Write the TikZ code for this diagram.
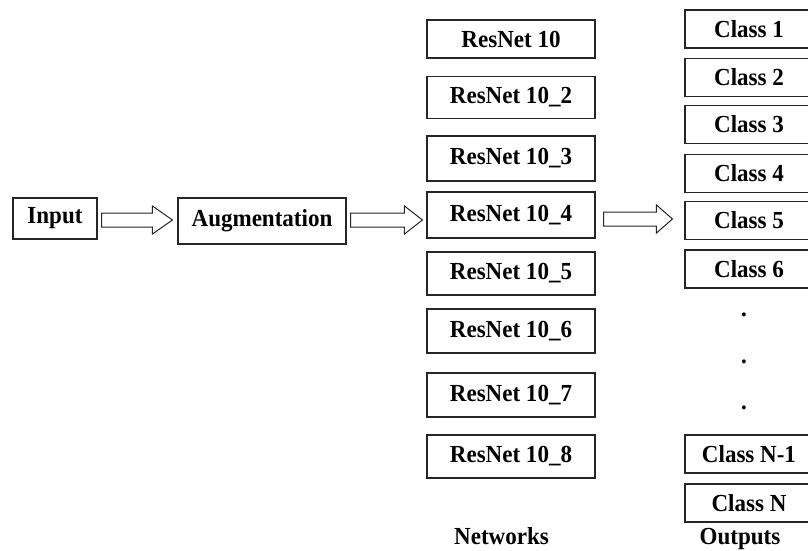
\documentclass[tikz,border=0pt]{standalone}
\usepackage{fontspec}
\setmainfont{Liberation Serif}[FakeStretch=0.94]
\usetikzlibrary{calc}
\begin{document}
\begin{tikzpicture}[x=1pt,y=-1pt,
  box/.style={draw=black!85,line width=1.1pt,fill=white,inner sep=0pt,
    font=\fontsize{24.5}{28}\selectfont\bfseries},
  netbox/.style={box,minimum width=168pt,minimum height=42pt},
  clsbox/.style={box,minimum width=128pt,minimum height=38pt},
  blockarr/.style={draw=black!85,line width=1pt,fill=white,line join=miter},
  lbl/.style={font=\fontsize{24.5}{28}\selectfont\bfseries,anchor=base,inner sep=0pt},
  dotlbl/.style={font=\fontsize{24.5}{28}\selectfont\bfseries,anchor=base,inner sep=0pt}]
\useasboundingbox (0,0) rectangle (808,551);
% left boxes
\node[box,minimum width=84pt,minimum height=41pt] (in) at (55,218.5) {Input};
\node[box,minimum width=168pt,minimum height=46pt] (aug) at (262,221) {Augmentation};
% networks
\node[netbox,minimum height=38pt] (r1) at (511,39) {ResNet 10};
\node[netbox] (r2) at (511,97.5) {ResNet 10\_2};
\node[netbox,minimum height=45pt] (r3) at (511,158.5) {ResNet 10\_3};
\node[netbox,minimum height=46pt] (r4) at (511,215) {ResNet 10\_4};
\node[netbox,minimum height=43pt] (r5) at (511,273.5) {ResNet 10\_5};
\node[netbox,minimum height=44pt] (r6) at (511,331) {ResNet 10\_6};
\node[netbox,minimum height=44pt] (r7) at (511,395) {ResNet 10\_7};
\node[netbox,minimum height=43pt] (r8) at (511,456.5) {ResNet 10\_8};
% classes
\node[clsbox] (c1) at (749,29) {Class 1};
\node[clsbox] (c2) at (749,77.5) {Class 2};
\node[clsbox] (c3) at (749,124.5) {Class 3};
\node[clsbox] (c4) at (749,173.5) {Class 4};
\node[clsbox] (c5) at (749,220.5) {Class 5};
\node[clsbox] (c6) at (749,269) {Class 6};
\node[dotlbl] (d1) at (744,316) {.};
\node[dotlbl] (d2) at (744,363) {.};
\node[dotlbl] (d3) at (744,409) {.};
\node[clsbox] (cn1) at (749,454) {Class N-1};
\node[clsbox] (cn) at (749,503) {Class N};
% column labels
\node[lbl] (lnet) at (501.5,544) {Networks};
\node[lbl] (lout) at (740,544) {Outputs};
% block arrows
\draw[blockarr] let \p1=(in.east), \p2=(aug.west) in
  (\x1+4pt,-213pt) -- (\x2-25pt,-213pt) -- (\x2-25pt,-206pt) -- (\x2-5pt,-220pt)
  -- (\x2-25pt,-234pt) -- (\x2-25pt,-227pt) -- (\x1+4pt,-227pt) -- cycle;
\draw[blockarr] let \p1=(aug.east), \p2=(r4.west) in
  (\x1+4pt,-213pt) -- (\x2-22pt,-213pt) -- (\x2-22pt,-206pt) -- (\x2-4pt,-220pt)
  -- (\x2-22pt,-234pt) -- (\x2-22pt,-227pt) -- (\x1+4pt,-227pt) -- cycle;
\draw[blockarr] let \p1=(r4.east), \p2=(c5.west) in
  (\x1+8pt,-212pt) -- (\x2-28pt,-212pt) -- (\x2-28pt,-205pt) -- (\x2-12pt,-219pt)
  -- (\x2-28pt,-233pt) -- (\x2-28pt,-226pt) -- (\x1+8pt,-226pt) -- cycle;
\end{tikzpicture}
\end{document}
